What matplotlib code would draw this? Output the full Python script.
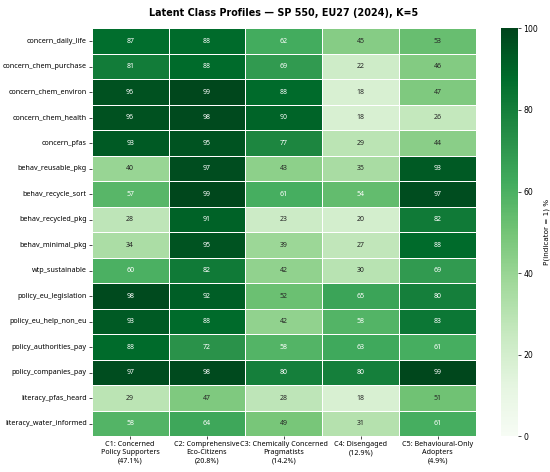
import matplotlib
matplotlib.use("Agg")
import matplotlib.pyplot as plt
import seaborn as sns
import numpy as np
import pandas as pd

indicators = ["concern_daily_life", "concern_chem_purchase", "concern_chem_environ",
              "concern_chem_health", "concern_pfas", "behav_reusable_pkg",
              "behav_recycle_sort", "behav_recycled_pkg", "behav_minimal_pkg",
              "wtp_sustainable", "policy_eu_legislation", "policy_eu_help_non_eu",
              "policy_authorities_pay", "policy_companies_pay", "literacy_pfas_heard",
              "literacy_water_informed"]
classes = ["C1: Concerned\nPolicy Supporters\n(47.1%)",
           "C2: Comprehensive\nEco-Citizens\n(20.8%)",
           "C3: Chemically Concerned\nPragmatists\n(14.2%)",
           "C4: Disengaged\n(12.9%)",
           "C5: Behavioural-Only\nAdopters\n(4.9%)"]
c1 = [87, 81, 96, 96, 93, 40, 57, 28, 34, 60, 98, 93, 88, 97, 29, 58]
c2 = [88, 88, 99, 98, 95, 97, 99, 91, 95, 82, 92, 88, 72, 98, 47, 64]
c3 = [62, 69, 88, 90, 77, 43, 61, 23, 39, 42, 52, 42, 58, 80, 28, 49]
c4 = [45, 22, 18, 18, 29, 35, 54, 20, 27, 30, 65, 58, 63, 80, 18, 31]
c5 = [53, 46, 47, 26, 44, 93, 97, 82, 88, 69, 80, 83, 61, 99, 51, 61]

df = pd.DataFrame(np.array([c1, c2, c3, c4, c5]).T, index=indicators, columns=classes)

W, H = 550, 472
fig = plt.figure(figsize=(W/100, H/100), dpi=100)
ax = fig.add_axes([91.7/W, 1-436.3/H, (476-91.7)/W, (436.3-28.3)/H])
cax = fig.add_axes([500.7/W, 1-436.3/H, (518.3-500.7)/W, (436.3-28.3)/H])
sns.heatmap(df, ax=ax, cbar_ax=cax, cmap="Greens", vmin=0, vmax=100, annot=True, fmt=".0f",
            linewidths=0.6, linecolor="white",
            annot_kws={"fontsize": 5.0, "family": ["Noto Sans", "DejaVu Sans"]})
ax.tick_params(axis="both", length=2, width=0.5, pad=1.5)
ax.set_xticklabels(classes, rotation=0, fontsize=5.2, linespacing=1.25,
                   family=["Noto Sans", "DejaVu Sans"])
ax.set_yticklabels(indicators, rotation=0, fontsize=5.2, family=["Noto Sans", "DejaVu Sans"])
cax.tick_params(labelsize=5.6, length=2, width=0.5, pad=1.5)
cax.set_ylabel("P(indicator = 1) %", fontsize=5.2, labelpad=4)
for s in cax.spines.values():
    s.set_visible(False)
ax.set_title("Latent Class Profiles — SP 550, EU27 (2024), K=5", fontsize=6.9,
             fontweight="bold", pad=9)
fig.savefig("out.png", dpi=100)
